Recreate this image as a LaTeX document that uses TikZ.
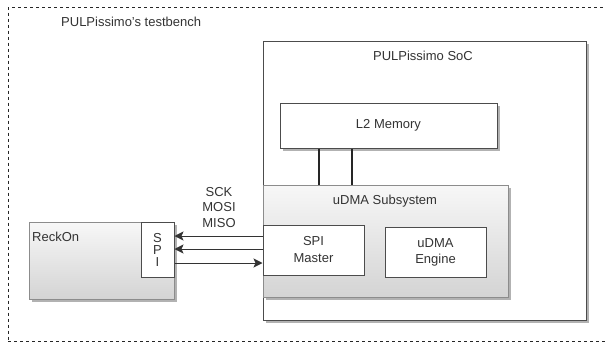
\documentclass[tikz,border=0pt]{standalone}
\usepackage{fontspec}
\setmainfont{Liberation Sans}
\usetikzlibrary{arrows.meta,shadows}

\begin{document}
\begin{tikzpicture}[x=1pt, y=-1pt,
    every node/.style={font=\fontsize{13}{15}\selectfont, text=black!80},
    box/.style={draw=black!70, line width=1pt, fill=white, inner sep=0pt},
    gbox/.style={draw=black!45, line width=1pt, top color=black!3, bottom color=black!17, inner sep=0pt},
    shade/.style={drop shadow={shadow xshift=3pt, shadow yshift=-3pt, fill=black!30, opacity=1}},
    sig/.style={draw=black!80, line width=1pt, -{Stealth[length=9pt,width=9pt,inset=2pt]}},
    bus/.style={draw=black!85, line width=1.8pt}]

\useasboundingbox (0,0) rectangle (605,343);

% testbench frame
\node(tb) [draw=black!85, dashed, line width=0.8pt, minimum width=598pt, minimum height=334.5pt, inner sep=0pt] at (307,174.25) {};
\node(tbl) [anchor=west, inner sep=0pt] at (61,22) {PULPissimo's testbench};

% SoC
\node(soc) [box, shade, minimum width=323pt, minimum height=279pt] at (424.5,180.5) {};
\node(socl) at (423,56) {PULPissimo SoC};

\node(l2) [box, shade, minimum width=217pt, minimum height=45pt] at (388.5,125.5) {L2 Memory};

\node(udma) [gbox, shade, minimum width=245pt, minimum height=112pt] at (385.5,241) {};
\node(udmal) at (385,201) {uDMA Subsystem};

\node(spim) [box, minimum width=101pt, minimum height=50pt, align=center, font=\fontsize{13}{17}\selectfont] at (313.5,250) {SPI\\Master};
\node(eng) [box, minimum width=101pt, minimum height=50pt, align=center, font=\fontsize{13}{16}\selectfont] at (435.5,252) {uDMA\\Engine};

\draw[bus] (l2.south -| 319,0) -- (udma.north -| 319,0);
\draw[bus] (l2.south -| 352,0) -- (udma.north -| 352,0);

% ReckOn
\node(reckon) [gbox, shade, minimum width=145pt, minimum height=77pt] at (101.5,260.5) {};
\node(reckonl) [anchor=west, inner sep=0pt] at (32,237) {ReckOn};
\node(spi) [box, minimum width=33pt, minimum height=55pt, align=center, font=\fontsize{13}{12}\selectfont] at (157.5,249.5) {S\\P\\I};

\draw[sig] (spim.west |- 0,236) -- (spi.east |- 0,236);
\draw[sig] (spim.west |- 0,249) -- (spi.east |- 0,249);
\draw[sig] (spi.east |- 0,263) -- (spim.west |- 0,263);
\node(sigl) [align=center, font=\fontsize{13}{15.5}\selectfont] at (219,207.5) {SCK\\MOSI\\MISO};

\end{tikzpicture}
\end{document}
